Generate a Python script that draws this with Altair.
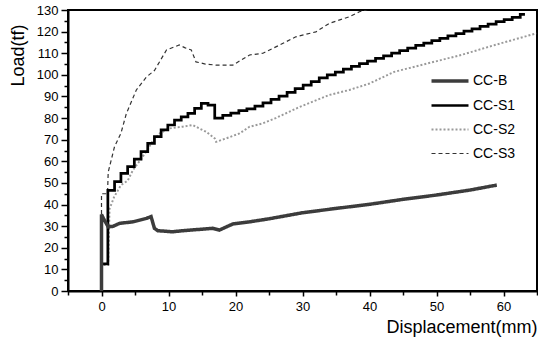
import altair as alt
import pandas as pd

# ---- data ----
series_names = ["CC-B", "CC-S1", "CC-S2", "CC-S3"]

b_disp = [0, 0, 0.3, 1.0, 1.7, 2.7, 4.7, 6.7, 7.4, 7.9, 8.4, 10.6, 12.5, 14.6, 16.6, 17.6,
          19.6, 22.1, 25, 30, 35, 40, 45, 50, 55, 59]
b_load = [0, 35.4, 33.5, 29.7, 29.9, 31.3, 32.0, 33.6, 34.4, 29.0, 27.9, 27.4, 28.0, 28.5, 29.0, 28.2,
          31.0, 32.0, 33.4, 36.2, 38.2, 40.1, 42.4, 44.4, 46.7, 49.0]

s1_disp = [0, 0, 0.95, 1.95, 2.9, 3.9, 4.9, 5.9, 6.9, 7.9, 8.9, 9.9, 10.9, 11.9, 12.9, 13.9,
           14.9, 15.9, 16.9, 18.1, 19.3, 20.5, 21.7, 22.9, 24.1, 25.3, 26.5, 27.7, 28.9, 30.1,
           31.3, 32.5, 33.7, 34.9, 36.1, 37.3, 38.5, 39.7, 40.9, 42.1, 43.3, 44.5, 45.7, 46.9,
           48.1, 49.3, 50.5, 51.7, 52.9, 54.1, 55.3, 56.5, 57.7, 58.9, 60.1, 61.3, 62.5, 63.2]
s1_load = [0, 12.5, 46.6, 50.6, 54.4, 57.5, 61.0, 64.5, 68.3, 71.4, 74.5, 76.8, 79.1, 80.6, 82.2, 84.5,
           86.8, 86.0, 80.0, 81.2, 82.3, 83.4, 84.3, 85.5, 87.0, 88.6, 90.2, 91.9, 93.6, 95.2,
           96.9, 98.6, 100.0, 101.3, 102.6, 103.9, 105.2, 106.4, 107.6, 108.8, 110.0, 111.2, 112.4, 113.6,
           114.7, 115.8, 116.9, 118.0, 119.1, 120.2, 121.3, 122.4, 123.5, 124.6, 125.6, 126.6, 128.0, 128.0]

s2_disp = [0, 0, 1.0, 1.2, 1.9, 2.9, 3.9, 4.7, 5.9, 6.9, 7.7, 8.7, 10.1, 12.1, 13.6, 14.6, 15.6,
           16.9, 17.1, 18.6, 20.6, 22.1, 24.1, 26, 29.6, 34, 37, 40, 43.7, 48.7, 53.7, 58.7, 64.9]
s2_load = [0, 12, 12, 38, 43.6, 49, 51, 56, 61, 65.5, 69.8, 72.9, 75.2, 76, 76.8, 75.2, 73.7,
           70.6, 69, 70.6, 72.9, 76, 77.6, 80, 85.2, 90.7, 93, 96, 101.4, 105.3, 109.2, 113.8, 119.2]

s3_disp = [0, 0, 0.9, 1.0, 1.94, 2.9, 3.7, 5.2, 6.7, 7.9, 9.7, 11.6, 12.5, 13.4, 14.1, 15.5,
           17.1, 19.6, 22.1, 24.1, 27.1, 29, 32, 34, 37, 38.5, 40]
s3_load = [0, 45, 45, 55, 66.7, 73, 82, 93, 99, 102, 111.5, 113.8, 112.5, 111.5, 106, 105,
           104.5, 104.5, 109.2, 110, 114.6, 117.6, 119.9, 123.8, 126.9, 129.2, 130.5]

frames = []
for name, xs, ys in [("CC-B", b_disp, b_load), ("CC-S1", s1_disp, s1_load),
                     ("CC-S2", s2_disp, s2_load), ("CC-S3", s3_disp, s3_load)]:
    frames.append(pd.DataFrame({"series": name, "disp": xs, "load": ys, "order": range(len(xs))}))
df = pd.concat(frames, ignore_index=True)

FONT = "Liberation Sans"

x_enc = alt.X(
    "disp:Q",
    scale=alt.Scale(domain=[-5, 65], nice=False, zero=False),
    axis=alt.Axis(
        title="Displacement(mm)",
        values=list(range(-5, 66, 5)),
        labelExpr="datum.value % 10 === 0 ? datum.label : ''",
        tickSize={"condition": {"test": "datum.value % 10 === 0", "value": 5}, "value": 4},
        titleX=469, titleY=41, titleAlign="right", titleBaseline="alphabetic",
        titleFontSize=18, titleFontWeight="normal", titleFont=FONT,
        labelFont=FONT, labelFontSize=13, labelPadding=4, labelColor="black",
        domainColor="black", domainWidth=2, tickColor="black", tickWidth=1.5,
        grid=False,
    ),
)
y_enc = alt.Y(
    "load:Q",
    scale=alt.Scale(domain=[0, 130], nice=False),
    axis=alt.Axis(
        title="Load(tf)",
        values=list(range(0, 131, 5)),
        labelExpr="datum.value % 10 === 0 ? datum.label : ''",
        tickSize={"condition": {"test": "datum.value % 10 === 0", "value": 7}, "value": 4},
        titleX=-50, titleY=45, titleAlign="center", titleBaseline="middle",
        titleFontSize=18, titleFontWeight="normal", titleFont=FONT,
        labelFont=FONT, labelFontSize=13, labelPadding=3, labelColor="black",
        domainColor="black", domainWidth=2, tickColor="black", tickWidth=1.5,
        grid=False,
    ),
)

LEG_X, LEG_Y = 371, 60
color_enc = alt.Color(
    "series:N",
    scale=alt.Scale(domain=series_names, range=["#3c3c3c", "#000000", "#9a9a9a", "#333333"]),
    legend=alt.Legend(
        title=None, orient="none", legendX=LEG_X, legendY=LEG_Y,
        symbolType="M-2,0H2", symbolSize=342, labelFont=FONT, labelFontSize=14,
        labelColor="black", labelOffset=12, padding=0, rowPadding=6.5,
    ),
)
dash_enc = alt.StrokeDash(
    "series:N",
    scale=alt.Scale(domain=series_names, range=[[1, 0], [1, 0], [2, 2], [4, 3]]),
    legend=alt.Legend(title=None, orient="none", legendX=LEG_X, legendY=LEG_Y),
)
width_enc = alt.StrokeWidth(
    "series:N",
    scale=alt.Scale(domain=series_names, range=[3.5, 1.2, 1.1, 1.2]),
    legend=alt.Legend(title=None, orient="none", legendX=LEG_X, legendY=LEG_Y),
)

base = alt.Chart(df).encode(x=x_enc, y=y_enc, color=color_enc, strokeDash=dash_enc,
                            strokeWidth=width_enc, order="order:Q")

layer_b = base.transform_filter(alt.datum.series == "CC-B").mark_line(clip=True)
layer_s1 = base.transform_filter(alt.datum.series == "CC-S1").mark_line(clip=True, interpolate="step-after")
layer_s2 = base.transform_filter(alt.datum.series == "CC-S2").mark_line(clip=True)
layer_s3 = base.transform_filter(alt.datum.series == "CC-S3").mark_line(clip=True)

chart = alt.layer(layer_s2, layer_s3, layer_s1, layer_b).properties(
    width=469, height=281,
    autosize=alt.AutoSizeParams(type="none"),
    padding={"left": 68, "top": 10, "right": 1, "bottom": 47},
    background="white",
).configure_view(stroke="black", strokeWidth=2)

chart.save("out.html", embed_options={"renderer": "svg", "actions": False})
